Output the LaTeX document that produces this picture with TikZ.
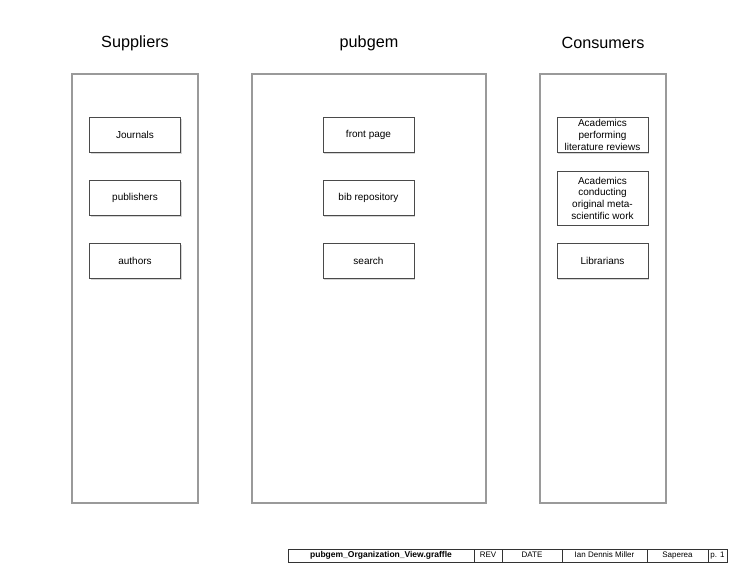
\documentclass[tikz,border=0pt]{standalone}
\usepackage{fontspec}
\setmainfont{Liberation Sans}
\usepackage{tikz}
\usetikzlibrary{positioning, shadows}
\definecolor{column_gray}{HTML}{9a9a9a}
\definecolor{box_gray}{HTML}{4a4a4a}

\tikzset{
  column/.style={draw=column_gray, line width=1.3pt, fill=white,
    minimum width=#1, minimum height=429pt, inner sep=0pt, outer sep=0pt,
    drop shadow={shadow xshift=1pt, shadow yshift=-1.2pt, fill=gray!45}},
  item/.style={draw=box_gray, line width=0.9pt, fill=white,
    minimum width=91pt, minimum height=35pt, inner sep=1pt, align=center,
    font=\fontsize{10}{11.7}\selectfont,
    drop shadow={shadow xshift=1.3pt, shadow yshift=-1.3pt, fill=gray!65}},
  title/.style={font=\fontsize{16.2}{18}\selectfont},
  cell/.style={draw=black!80, line width=0.5pt, minimum height=13pt,
    inner sep=0pt, outer sep=0pt, text height=6pt, text depth=1.8pt,
    font=\fontsize{8}{9}\selectfont}
}

\begin{document}
\begin{tikzpicture}[x=1pt, y=-1pt]

      % Page frame
      \useasboundingbox (0,0) rectangle (734,576);

      % Draw the three columns
      \node[column=126pt] (suppliers) at (135,288.5) {};
      \node[column=234pt] (pubgem) at (369,288.5) {};
      \node[column=126pt] (consumers) at (603,288.5) {};

      % Column titles
      \node[title] (suppliers_title) at (135,43) {Suppliers};
      \node[title] (pubgem_title) at (369,43) {pubgem};
      \node[title] (consumers_title) at (603,43) {Consumers};

      % Suppliers
      \node[item] (journals) at (135,135) {Journals};
      \node[item] (publishers) at (135,198) {publishers};
      \node[item] (authors) at (135,261) {authors};

      % pubgem parts
      \node[item] (front_page) at (368.5,135) {front page};
      \node[item] (bib_repo) at (368.5,198) {bib repository};
      \node[item] (search) at (368.5,261) {search};

      % Consumers
      \node[item] (reviewers) at (602.5,135) {Academics\\performing\\literature reviews};
      \node[item, minimum height=54pt] (meta_sci) at (602.5,198) {Academics\\conducting\\original meta-\\scientific work};
      \node[item] (librarians) at (602.5,261) {Librarians};

      % Title block
      \node[cell, minimum width=186pt, anchor=west, font=\fontsize{8.5}{9}\selectfont\bfseries] (file_name) at (288,555.5) {pubgem\_Organization\_View.graffle};
      \node[cell, minimum width=28pt, right=0pt of file_name] (rev) {REV};
      \node[cell, minimum width=60pt, right=0pt of rev] (date) {DATE};
      \node[cell, minimum width=85pt, right=0pt of date] (author) {Ian Dennis Miller};
      \node[cell, minimum width=61pt, right=0pt of author] (company) {Saperea};
      \node[cell, minimum width=19pt, right=0pt of company] (page) {p. 1};

  \end{tikzpicture}
\end{document}
